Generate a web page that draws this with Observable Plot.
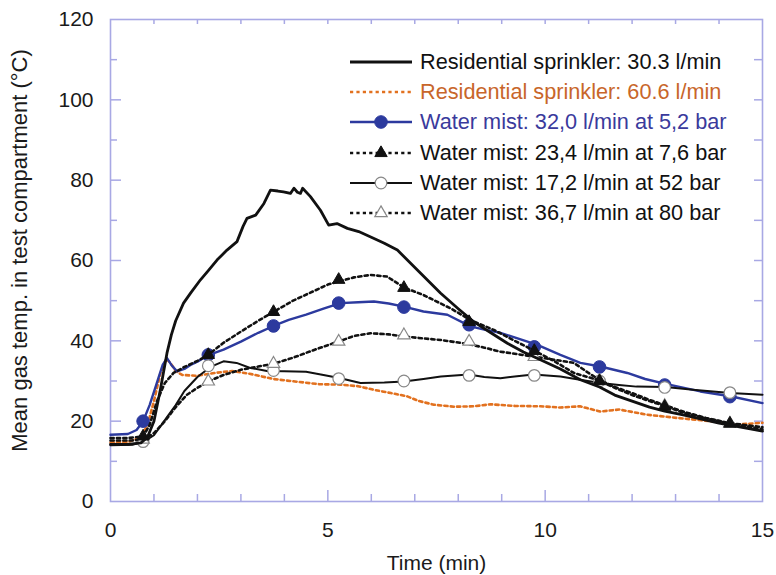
<!DOCTYPE html>
<html><head><meta charset="utf-8">
<script src="https://cdn.jsdelivr.net/npm/d3@7"></script>
<script src="https://cdn.jsdelivr.net/npm/@observablehq/plot@0.6"></script>
<style>
body{margin:0;background:#fff;font-family:"Liberation Sans",Arial,sans-serif;}
#wrap{position:relative;width:776px;height:575px;}
#legend{position:absolute;left:350px;top:46.7px;}
.row{display:flex;align-items:center;height:30.3px;font-size:21.7px;white-space:nowrap;}
.row svg{margin-right:8px;flex:none;}
</style></head><body><div id="wrap"><div id="chart"></div><div id="legend"></div></div>
<script>
// ---- data (time in min, temperature in °C) ----
const res303 = [[0,14.2],[0.4,14.2],[0.7,14.6],[0.85,16],[1.0,20],[1.15,28],[1.3,37],[1.4,41.5],[1.5,45],[1.68,49.4],[1.85,52],[2.07,55.2],[2.25,57.5],[2.45,60.1],[2.68,62.6],[2.91,64.7],[3.05,68.5],[3.14,70.5],[3.34,71.3],[3.53,74.2],[3.68,77.5],[3.85,77.3],[3.98,77.1],[4.14,76.7],[4.22,78],[4.3,77],[4.37,76.7],[4.42,78],[4.6,75.9],[4.83,72.5],[5.02,68.8],[5.21,69.2],[5.45,68],[5.71,67.2],[6.0,65.8],[6.3,64.3],[6.6,62.6],[7.1,57.2],[7.59,51.9],[8.0,48],[8.35,44.8],[8.75,42],[9.13,39.4],[9.5,37.2],[9.89,35.3],[10.35,33],[10.81,30.3],[11.25,28.5],[11.6,26.5],[12.0,25],[12.4,23.5],[12.75,22.5],[13.2,21.5],[13.6,20.5],[14.0,19.5],[14.5,18.5],[15,17.5]];
const res606 = [[0,14.7],[0.4,14.8],[0.7,16],[0.85,19],[1.0,25],[1.15,32],[1.28,35.5],[1.38,34.5],[1.5,32.5],[1.65,31.5],[2.0,31.3],[2.4,32],[2.8,32.5],[3.2,31.8],[3.75,30.5],[4.3,29.8],[4.8,29.2],[5.29,29.1],[5.7,28.7],[6.06,27.8],[6.45,27],[6.82,26.2],[7.1,25],[7.44,24.1],[7.9,23.6],[8.36,23.7],[8.74,24.2],[9.3,23.8],[9.89,23.7],[10.35,23.4],[10.8,23.7],[11.27,22.4],[11.7,22.9],[12.35,21.6],[13.04,20.8],[13.8,20],[14.34,19.1],[15,19.6]];
const mist320 = [[0,16.6],[0.4,16.8],[0.6,17.8],[0.75,20],[0.9,24],[1.05,29],[1.2,34],[1.3,35.7],[1.4,34],[1.53,32.4],[1.7,33],[1.84,34],[2.0,34.8],[2.22,36.3],[2.6,37.8],[3.0,39.8],[3.4,42],[3.75,43.7],[4.1,45.2],[4.5,46.5],[4.9,48],[5.29,49.4],[5.7,49.6],[6.06,49.8],[6.4,49.3],[6.75,48.5],[7.2,47.3],[7.75,46.5],[8.28,43.6],[8.6,42.8],[8.97,42],[9.4,40.5],[9.82,39],[10.35,36.5],[10.81,34.5],[11.27,33.6],[11.89,32],[12.3,30.5],[12.77,29.3],[13.57,27.4],[14.26,26.2],[15,24.5]];
const mist234 = [[0,15.8],[0.4,15.8],[0.75,16.2],[0.9,19],[1.07,25],[1.25,29.5],[1.45,32],[1.7,33.5],[2.0,35],[2.22,36.3],[2.6,39.5],[3.0,42.3],[3.4,45],[3.75,47.2],[4.2,50],[4.6,52],[5.0,54],[5.29,54.9],[5.6,55.8],[5.98,56.4],[6.36,56],[6.75,53.3],[7.2,51.4],[7.82,48.1],[8.28,45.2],[8.82,42.7],[9.3,40],[9.74,37.6],[10.2,35],[10.66,32],[11.2,30.3],[11.6,28.3],[12.0,26.5],[12.4,25],[12.75,23.8],[13.2,22],[13.7,20.7],[14.25,19.4],[14.6,18.8],[15,18]];
const mist172 = [[0,14],[0.5,14.1],[0.75,14.8],[1.0,16.5],[1.3,21],[1.5,24],[1.7,27.5],[2.0,31],[2.3,33.5],[2.6,34.9],[2.9,34.5],[3.2,33.3],[3.6,32.5],[4.0,32.4],[4.5,32.3],[4.9,31.5],[5.29,30.7],[5.75,29.5],[6.3,29.6],[6.75,29.9],[7.2,30.5],[7.6,31.1],[8.24,31.6],[8.6,31],[8.97,30.7],[9.35,31.2],[9.73,31.6],[10.35,31.1],[10.8,30.3],[11.27,29.5],[11.7,29],[12.1,28.6],[12.77,28.5],[13.4,27.8],[14.26,27],[15,26.6]];
const mist367 = [[0,15.2],[0.5,15.2],[0.75,15.4],[1.0,17],[1.25,20],[1.5,23.5],[1.75,26.5],[2.0,28.3],[2.25,29.9],[2.6,31.5],[3.0,32.8],[3.4,33.6],[3.75,34.3],[4.2,35.8],[4.7,37.8],[5.29,40],[5.6,41.2],[5.98,41.9],[6.4,41.6],[6.75,41.1],[7.2,40.6],[7.6,40.2],[8.24,39.2],[8.6,38.3],[8.97,37.3],[9.35,36.7],[9.73,36.1],[10.2,35.3],[10.66,34.5],[11.0,32],[11.25,30.3],[11.6,28.5],[12.0,27],[12.4,25.3],[12.75,24],[13.2,22.3],[13.7,20.8],[14.25,19.5],[15,18.5]];

const markerTimes = [0.75, 2.25, 3.75, 5.25, 6.75, 8.25, 9.75, 11.25, 12.75, 14.25];
const mist320Marks = [20.0, 36.5, 43.7, 49.4, 48.4, 44.0, 38.5, 33.5, 29.0, 26.1];
const mist234Marks = [16.2, 36.5, 47.2, 55.2, 53.2, 44.7, 37.5, 30.0, 23.6, 19.4];
const mist172Marks = [14.9, 33.8, 32.6, 30.6, 30.0, 31.4, 31.4, 30.0, 28.4, 27.1];
const mist367Marks = [15.4, 29.9, 34.3, 39.8, 41.4, 39.8, 36.0, 30.0, 23.8, 19.4];

const xTickLabels = [0, 5, 10, 15];
const yTickLabels = [0, 20, 40, 60, 80, 100, 120];
const xMinorTicks = [1, 2, 3, 4, 6, 7, 8, 9, 11, 12, 13, 14];
const xMajorTicks = [5, 10];
const xTopTicks = [1, 2, 3, 4, 5, 6, 7, 8, 9, 10, 11, 12, 13, 14];
const yMinorTicks = [10, 30, 50, 70, 90, 110];
const yMajorTicks = [20, 40, 60, 80, 100];
const yRightTicks = [10, 20, 30, 40, 50, 60, 70, 80, 90, 100, 110];

const legendLabels = ["Residential sprinkler: 30.3 l/min", "Residential sprinkler: 60.6 l/min", "Water mist: 32,0 l/min at 5,2 bar", "Water mist: 23,4 l/min at 7,6 bar", "Water mist: 17,2 l/min at 52 bar", "Water mist: 36,7 l/min at 80 bar"];
const legendTextColors = ["#111", "#c8662a", "#3a3a9c", "#111", "#111", "#111"];

// ---- styles ----
const W = 776, H = 575, mL = 110, mR = 14, mT = 19, mB = 74;
const innerW = W - mL - mR, innerH = H - mT - mB;
const axisColor = "#a8a8e4";
const font = "Liberation Sans, Arial, sans-serif";
const orange = "#e2711f", blue = "#2c3a9e", black = "#111";
const dotted = "3.2,3.2";
const styles = [
  {stroke: black, strokeWidth: 2.8},
  {stroke: orange, strokeWidth: 2.6, strokeDasharray: dotted},
  {stroke: blue, strokeWidth: 2.4},
  {stroke: black, strokeWidth: 2.6, strokeDasharray: dotted},
  {stroke: black, strokeWidth: 2.0},
  {stroke: black, strokeWidth: 2.6, strokeDasharray: dotted}
];
const markerStyles = [null, null,
  {symbol: "circle", r: 6.3, fill: blue, stroke: blue, strokeWidth: 1},
  {symbol: "triangle", r: 4.6, fill: black, stroke: black, strokeWidth: 1},
  {symbol: "circle", r: 5.8, fill: "#fff", stroke: "#888", strokeWidth: 1.2},
  {symbol: "triangle", r: 4.6, fill: "#fff", stroke: "#888", strokeWidth: 1.2}
];

const xy = {x: d => d[0], y: d => d[1]};
const mk = (times, vals) => times.map((t, i) => [t, vals[i]]);

const chart = Plot.plot({
  width: W, height: H,
  marginLeft: mL, marginRight: mR, marginTop: mT, marginBottom: mB,
  style: {fontFamily: font, background: "#fff", color: "#1a1a1a"},
  x: {domain: [0, 15], axis: null},
  y: {domain: [0, 120], axis: null},
  marks: [
    // ticks (inside the frame)
    Plot.tickX(xMinorTicks, {x: d => d, insetTop: innerH - 7, stroke: axisColor, strokeWidth: 1.5}),
    Plot.tickX(xMajorTicks, {x: d => d, insetTop: innerH - 11, stroke: axisColor, strokeWidth: 1.5}),
    Plot.tickX(xTopTicks, {x: d => d, insetBottom: innerH - 5, stroke: axisColor, strokeWidth: 1.5}),
    Plot.tickY(yMinorTicks, {y: d => d, insetRight: innerW - 7, stroke: axisColor, strokeWidth: 1.5}),
    Plot.tickY(yMajorTicks, {y: d => d, insetRight: innerW - 11, stroke: axisColor, strokeWidth: 1.5}),
    Plot.tickY(yRightTicks, {y: d => d, insetLeft: innerW - 8, stroke: axisColor, strokeWidth: 1.5}),
    Plot.frame({stroke: axisColor, strokeWidth: 1.6}),
    // tick labels & titles
    Plot.text(xTickLabels, {x: d => d, text: d => String(d), frameAnchor: "bottom", lineAnchor: "middle", dy: 29, fontSize: 21, fill: "#1a1a1a"}),
    Plot.text(yTickLabels, {y: d => d, text: d => String(d), frameAnchor: "left", textAnchor: "end", dx: -17, fontSize: 21, fill: "#1a1a1a"}),
    Plot.text(["Time (min)"], {text: d => d, frameAnchor: "bottom", lineAnchor: "middle", dy: 62, fontSize: 21, fill: "#1a1a1a"}),
    Plot.text(["Mean gas temp. in test compartment (°C)"], {text: d => d, frameAnchor: "left", textAnchor: "middle", rotate: -90, dx: -91, dy: -10, fontSize: 22, fill: "#1a1a1a"}),
    // series
    Plot.line(res606, {...xy, ...styles[1]}),
    Plot.line(mist320, {...xy, ...styles[2], strokeLinejoin: "round"}),
    Plot.dot(mk(markerTimes, mist320Marks), {...xy, ...markerStyles[2]}),
    Plot.line(mist172, {...xy, ...styles[4], strokeLinejoin: "round"}),
    Plot.dot(mk(markerTimes, mist172Marks), {...xy, ...markerStyles[4]}),
    Plot.line(mist367, {...xy, ...styles[5]}),
    Plot.dot(mk(markerTimes, mist367Marks), {...xy, ...markerStyles[5]}),
    Plot.line(mist234, {...xy, ...styles[3]}),
    Plot.dot(mk(markerTimes, mist234Marks), {...xy, ...markerStyles[3]}),
    Plot.line(res303, {...xy, ...styles[0], strokeLinejoin: "round"})
  ]
});
document.getElementById("chart").appendChild(chart);

// ---- legend (inside plot area, top right) ----
const legend = document.getElementById("legend");
const NS = "http://www.w3.org/2000/svg";
legendLabels.forEach((label, i) => {
  const row = document.createElement("div");
  row.className = "row";
  const svg = document.createElementNS(NS, "svg");
  svg.setAttribute("width", 62); svg.setAttribute("height", 20);
  const ln = document.createElementNS(NS, "line");
  ln.setAttribute("x1", 0); ln.setAttribute("x2", 62); ln.setAttribute("y1", 10); ln.setAttribute("y2", 10);
  const s = styles[i];
  ln.setAttribute("stroke", s.stroke); ln.setAttribute("stroke-width", s.strokeWidth);
  if (s.strokeDasharray) ln.setAttribute("stroke-dasharray", s.strokeDasharray);
  svg.appendChild(ln);
  const m = markerStyles[i];
  if (m) {
    const p = document.createElementNS(NS, "path");
    const sym = m.symbol === "triangle" ? d3.symbolTriangle : d3.symbolCircle;
    p.setAttribute("d", d3.symbol(sym, Math.PI * m.r * m.r)());
    p.setAttribute("transform", "translate(31,10)");
    p.setAttribute("fill", m.fill); p.setAttribute("stroke", m.stroke); p.setAttribute("stroke-width", m.strokeWidth);
    svg.appendChild(p);
  }
  row.appendChild(svg);
  const span = document.createElement("span");
  span.textContent = label;
  span.style.color = legendTextColors[i];
  row.appendChild(span);
  legend.appendChild(row);
});
</script>
</body></html>
